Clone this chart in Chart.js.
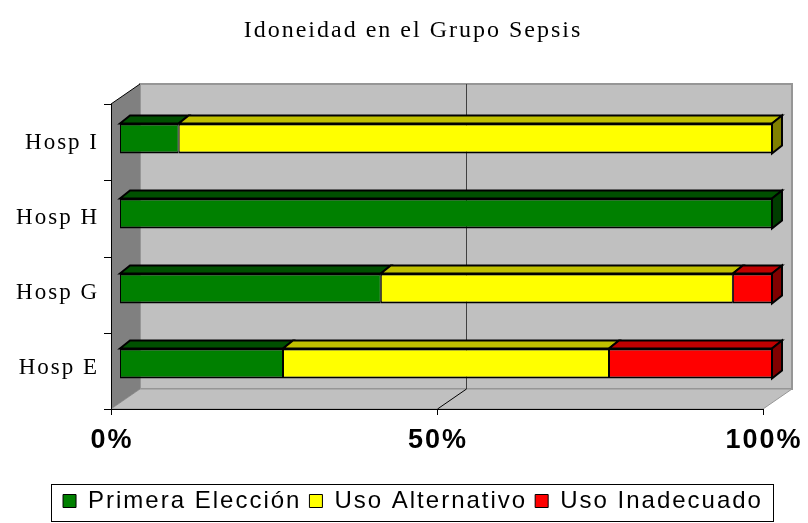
<!DOCTYPE html>
<html>
<head>
<meta charset="utf-8">
<title>Idoneidad en el Grupo Sepsis</title>
<script src="https://cdn.jsdelivr.net/npm/chart.js@4.4.0/dist/chart.umd.min.js"></script>
<style>
  body { margin: 0; background: #fff; }
</style>
</head>
<body>
<canvas id="sepsisChart" width="808" height="523"></canvas>
<script>
// hospitals, top to bottom
const hospitals = ['Hosp I', 'Hosp H', 'Hosp G', 'Hosp E'];

// percent of each use per hospital
const primeraEleccion = [9, 100, 40, 25];
const usoAlternativo = [91, 0, 54, 50];
const usoInadecuado = [0, 0, 6, 25];

const xTicks = [0, 50, 100];

// front / top / side colours for the 3d bars
const frontColors = ['#008000', '#ffff00', '#ff0000'];
const topColors = ['#005000', '#c0c000', '#c00000'];
const sideColors = ['#003c00', '#808000', '#800000'];

// depth of the walls and of the bars
const DX = 29, DY = -20;
const BDX = 10, BDY = -8;

function poly(ctx, pts, fill, stroke, lw) {
    ctx.beginPath();
    ctx.moveTo(pts[0][0], pts[0][1]);
    for (let i = 1; i < pts.length; i++) ctx.lineTo(pts[i][0], pts[i][1]);
    ctx.closePath();
    if (fill) { ctx.fillStyle = fill; ctx.fill(); }
    if (stroke) { ctx.strokeStyle = stroke; ctx.lineWidth = lw || 1; ctx.stroke(); }
}

function line(ctx, x1, y1, x2, y2, color, lw) {
    ctx.beginPath();
    ctx.moveTo(x1, y1);
    ctx.lineTo(x2, y2);
    ctx.strokeStyle = color;
    ctx.lineWidth = lw || 1;
    ctx.stroke();
}

// front plane of the box, from the chart area
function frontPlane(chart) {
    const ca = chart.chartArea;
    return { l: ca.left - 9, r: ca.right - 9, t: ca.top + 3, b: ca.bottom + 8 };
}

// the old chart has widely spaced letters
const spacing = {
    id: 'spacing',
    beforeLayout(chart) { chart.ctx.letterSpacing = '2px'; },
    afterLayout(chart) {
        // let the hospital names run past the narrow axis box without clipping
        chart.scales.y.left = 0;
    },
    beforeDraw(chart) { chart.ctx.letterSpacing = '2px'; }
};

const box3d = {
    id: 'box3d',
    beforeDatasetsDraw(chart) {
        const ctx = chart.ctx;
        const f = frontPlane(chart);
        const xs = chart.scales.x;
        ctx.save();
        // back wall
        poly(ctx, [[f.l + DX, f.t + DY], [f.r + DX, f.t + DY], [f.r + DX, f.b + DY], [f.l + DX, f.b + DY]], '#c0c0c0', '#969696', 2);
        // floor
        poly(ctx, [[f.l, f.b], [f.l + DX, f.b + DY], [f.r + DX, f.b + DY], [f.r, f.b]], '#c0c0c0', '#969696', 1);
        // side wall
        poly(ctx, [[f.l, f.t], [f.l + DX, f.t + DY], [f.l + DX, f.b + DY], [f.l, f.b]], '#808080', null);
        line(ctx, f.l, f.t, f.l + DX, f.t + DY, '#000', 1);
        // inner grid lines (wall + floor)
        xTicks.slice(1, -1).forEach(v => {
            const x = xs.getPixelForValue(v) - 9;
            line(ctx, x + DX + 0.5, f.t + DY, x + DX + 0.5, f.b + DY, '#404040', 1);
            line(ctx, x + DX + 0.5, f.b + DY, x + 0.5, f.b, '#000', 1);
        });
        ctx.restore();
    },
    afterDatasetsDraw(chart) {
        const ctx = chart.ctx;
        ctx.save();
        ctx.lineJoin = 'miter';
        hospitals.forEach((h, i) => {
            let last = null, lastSet = -1;
            chart.data.datasets.forEach((ds, d) => {
                if (!ds.data[i]) return;
                const p = chart.getDatasetMeta(d).data[i].getProps(['x', 'y', 'base', 'height'], true);
                const top = p.y - p.height / 2;
                poly(ctx, [[p.base, top], [p.base + BDX, top + BDY], [p.x + BDX, top + BDY], [p.x, top]], topColors[d], '#000', 2);
                last = p;
                lastSet = d;
            });
            if (last) {
                const top = last.y - last.height / 2, bottom = last.y + last.height / 2;
                poly(ctx, [[last.x, top], [last.x + BDX, top + BDY], [last.x + BDX, bottom + BDY], [last.x, bottom]], sideColors[lastSet], '#000', 2);
            }
        });
        ctx.restore();
    },
    afterDraw(chart) {
        const ctx = chart.ctx;
        const f = frontPlane(chart);
        const xs = chart.scales.x;
        ctx.save();
        // value axis + ticks
        line(ctx, f.l, f.b + 0.5, f.r, f.b + 0.5, '#000', 1);
        xTicks.forEach(v => {
            const x = Math.round(xs.getPixelForValue(v) - 9) + 0.5;
            line(ctx, x, f.b, x, f.b + 6, '#000', 1);
        });
        // category axis + ticks between categories
        line(ctx, f.l + 0.5, f.t, f.l + 0.5, f.b, '#000', 1);
        for (let i = 0; i <= hospitals.length; i++) {
            const y = Math.round(f.t + (f.b - f.t) * i / hospitals.length) + 0.5;
            line(ctx, f.l - 7, y, f.l, y, '#000', 1);
        }
        // box around the legend
        const lg = chart.legend;
        const hb = lg.legendHitBoxes;
        const left = Math.min(...hb.map(b => b.left)) - 12;
        const right = Math.max(...hb.map(b => b.left + b.width)) + 10;
        ctx.strokeStyle = '#000';
        ctx.lineWidth = 1;
        ctx.strokeRect(Math.round(left) + 0.5, lg.top + 3.5, Math.round(right - left), lg.bottom - lg.top - 5);
        ctx.restore();
    }
};

function makeSet(label, data, i) {
    return {
        label: label,
        data: data,
        backgroundColor: frontColors[i],
        borderColor: '#000',
        borderWidth: { top: 2, bottom: 2, left: 1, right: 1 },
        borderSkipped: false,
        inflateAmount: 0,
        barPercentage: 0.4,
        categoryPercentage: 1
    };
}

const chart = new Chart(document.getElementById('sepsisChart').getContext('2d'), {
    type: 'bar',
    data: {
        labels: hospitals,
        datasets: [
            makeSet('Primera Elección', primeraEleccion, 0),
            makeSet('Uso Alternativo', usoAlternativo, 1),
            makeSet('Uso Inadecuado', usoInadecuado, 2)
        ]
    },
    options: {
        indexAxis: 'y',
        responsive: false,
        animation: false,
        layout: { padding: { left: 54, right: 36, top: 0, bottom: 0 } },
        plugins: {
            title: {
                display: true,
                text: 'Idoneidad en el Grupo Sepsis',
                color: '#000',
                font: { family: 'Liberation Serif', size: 24, weight: 'normal', lineHeight: 1 },
                padding: { top: 19, bottom: 58 }
            },
            legend: {
                position: 'bottom',
                labels: {
                    color: '#000',
                    font: { family: 'Liberation Sans', size: 24 },
                    boxWidth: 13,
                    boxHeight: 13,
                    padding: 8,
                    generateLabels(c) {
                        const items = Chart.defaults.plugins.legend.labels.generateLabels(c);
                        items.forEach(it => { it.lineWidth = 1; });
                        return items;
                    }
                }
            },
            tooltip: { enabled: false }
        },
        scales: {
            x: {
                stacked: true,
                min: 0,
                max: 100,
                afterBuildTicks: s => { s.ticks = xTicks.map(v => ({ value: v })); },
                afterFit: s => { s.height = 80; s.paddingLeft = 0; s.paddingRight = 0; },
                grid: { display: false, drawTicks: false },
                border: { display: false },
                ticks: {
                    callback: v => v + '%',
                    color: '#000',
                    font: { family: 'Liberation Sans', size: 27, weight: 'bold' },
                    padding: 23,
                    labelOffset: -8,
                    maxRotation: 0
                }
            },
            y: {
                stacked: true,
                afterFit: s => { s.width = 66; },
                grid: { display: false, drawTicks: false },
                border: { display: false },
                ticks: {
                    color: '#000',
                    font: { family: 'Liberation Serif', size: 23 },
                    padding: 21,
                    labelOffset: 4
                }
            }
        }
    },
    plugins: [spacing, box3d]
});
</script>
</body>
</html>
